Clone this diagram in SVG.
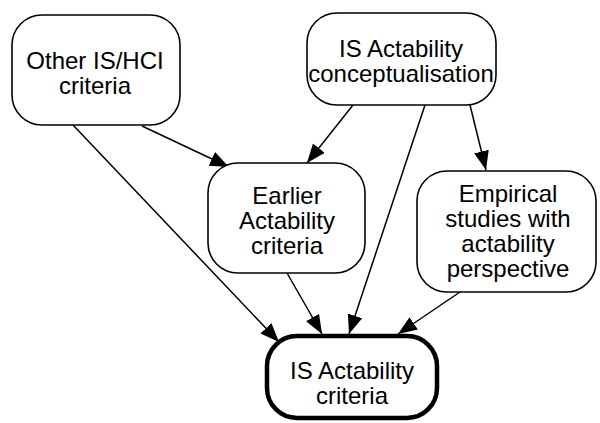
<svg xmlns="http://www.w3.org/2000/svg" width="600" height="423" viewBox="0 0 600 423">
<defs>
<marker id="arr" markerUnits="userSpaceOnUse" markerWidth="20" markerHeight="16" refX="19" refY="7.5" orient="auto">
<path d="M0,0 L19,7.5 L0,15 Z" fill="#000"/>
</marker>
<style>
.box{fill:#fff;stroke:#000;stroke-width:1.6}
.thick{fill:#fff;stroke:#000;stroke-width:4.5}
.t{font-family:"Liberation Sans",Arial,sans-serif;font-size:24px;text-anchor:middle;fill:#000}
.c{stroke:#000;stroke-width:1.5;fill:none;marker-end:url(#arr)}
</style>
</defs>
<rect width="600" height="423" fill="#fff"/>
<g id="connectors">
<line class="c" x1="142" y1="126" x2="229" y2="167"/>
<line class="c" x1="73" y1="125" x2="279" y2="342"/>
<line class="c" x1="353" y1="105" x2="307" y2="163"/>
<line class="c" x1="425" y1="105" x2="349" y2="334"/>
<line class="c" x1="470" y1="105" x2="486" y2="170"/>
<line class="c" x1="287" y1="273" x2="322" y2="334"/>
<line class="c" x1="460" y1="292" x2="398" y2="334"/>
</g>
<g id="other">
<rect class="box" x="12" y="15" width="168" height="110" rx="30"/>
<text class="t" x="95" y="69">Other IS/HCI</text>
<text class="t" x="95" y="94">criteria</text>
</g>
<g id="concept">
<rect class="box" x="307" y="13" width="189" height="92" rx="30"/>
<text class="t" x="401" y="57">IS Actability</text>
<text class="t" x="401" y="82">conceptualisation</text>
</g>
<g id="earlier">
<rect class="box" x="208" y="163" width="157" height="110" rx="30"/>
<text class="t" x="287" y="204">Earlier</text>
<text class="t" x="287" y="229">Actability</text>
<text class="t" x="287" y="254">criteria</text>
</g>
<g id="empirical">
<rect class="box" x="417" y="171" width="179" height="121" rx="30"/>
<text class="t" x="508" y="202">Empirical</text>
<text class="t" x="508" y="227">studies with</text>
<text class="t" x="508" y="252">actability</text>
<text class="t" x="508" y="277">perspective</text>
</g>
<g id="criteria">
<rect class="thick" x="267" y="336" width="170" height="82" rx="30"/>
<text class="t" x="352" y="379">IS Actability</text>
<text class="t" x="352" y="404">criteria</text>
</g>
</svg>
